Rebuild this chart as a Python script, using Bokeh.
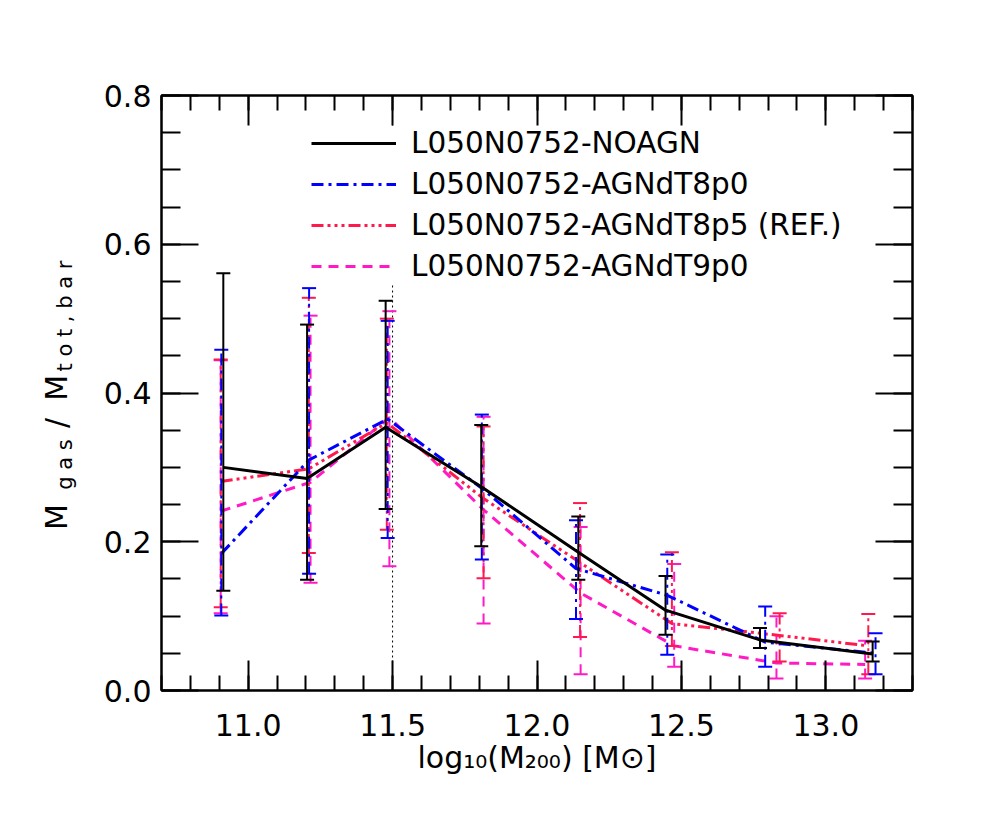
import math
from bokeh.plotting import figure
from bokeh.layouts import row
from bokeh.models import (Range1d, LinearAxis, SingleIntervalTicker, PrintfTickFormatter,
                          Span, Legend, LegendItem)
from bokeh.core.properties import value
from bokeh.embed import file_html
from bokeh.resources import INLINE

# ---------------- data ----------------
series_names = ["L050N0752-NOAGN", "L050N0752-AGNdT8p0",
                "L050N0752-AGNdT8p5 (REF.)", "L050N0752-AGNdT9p0"]

noagn_x = [10.914, 11.204, 11.476, 11.807, 12.143, 12.445, 12.772, 13.162]
noagn_y = [0.300, 0.285, 0.354, 0.274, 0.186, 0.108, 0.068, 0.049]
noagn_hi = [0.561, 0.492, 0.524, 0.357, 0.234, 0.154, 0.084, 0.066]
noagn_lo = [0.134, 0.149, 0.244, 0.194, 0.149, 0.075, 0.057, 0.039]

t8p0_x = [10.907, 11.211, 11.483, 11.809, 12.135, 12.451, 12.790, 13.172]
t8p0_y = [0.184, 0.310, 0.365, 0.272, 0.164, 0.128, 0.065, 0.050]
t8p0_hi = [0.458, 0.541, 0.497, 0.371, 0.229, 0.183, 0.113, 0.077]
t8p0_lo = [0.101, 0.157, 0.205, 0.176, 0.096, 0.048, 0.032, 0.022]

t8p5_x = [10.905, 11.210, 11.480, 11.815, 12.149, 12.467, 12.840, 13.147]
t8p5_y = [0.281, 0.298, 0.360, 0.258, 0.172, 0.090, 0.074, 0.060]
t8p5_hi = [0.445, 0.528, 0.500, 0.355, 0.252, 0.186, 0.104, 0.103]
t8p5_lo = [0.112, 0.185, 0.216, 0.151, 0.072, 0.060, 0.039, 0.022]

t9p0_x = [10.905, 11.216, 11.489, 11.815, 12.151, 12.475, 12.829, 13.136]
t9p0_y = [0.241, 0.280, 0.367, 0.243, 0.131, 0.060, 0.037, 0.035]
t9p0_hi = [0.444, 0.504, 0.510, 0.368, 0.220, 0.170, 0.100, 0.067]
t9p0_lo = [0.104, 0.145, 0.167, 0.090, 0.022, 0.032, 0.016, 0.016]

x_limits = (10.7, 13.3)
y_limits = (0.0, 0.8)
vline_x = 11.5

x_title = "log\u2081\u2080(M\u2082\u2080\u2080) [M\u2299]"
# y title, split into normal / subscript pieces
ytitle_parts = ["M", "g a s", "/", "M", "t o t , b a r"]
ytitle_is_sub = [False, True, False, False, True]

# ---------------- layout / styles ----------------
FONT = "DejaVu Sans"
colors = ["black", "#0000ff", "#ff1a4d", "#ff1ac6"]
dashes = ["solid", "12 5 3 5", "12 4 3 4 3 4 3 4", "10 7"]
line_widths = [3, 3, 3, 3]

TOTAL_W, TOTAL_H = 976, 802
YT_W = 95            # width of the strip holding the y title
FRAME_L, FRAME_T, FRAME_W, FRAME_H = 161, 95, 751, 595
BORDER_L = FRAME_L - YT_W
BORDER_R = TOTAL_W - FRAME_L - FRAME_W

p = figure(frame_width=FRAME_W, frame_height=FRAME_H,
           min_border_left=BORDER_L, min_border_right=BORDER_R,
           min_border_top=FRAME_T, min_border_bottom=60,
           x_range=Range1d(*x_limits), y_range=Range1d(*y_limits),
           output_backend="svg", toolbar_location=None,
           background_fill_color="white", border_fill_color="white")
p.grid.visible = False
p.outline_line_color = "black"
p.outline_line_width = 2

p.add_layout(LinearAxis(), "right")
p.add_layout(LinearAxis(), "above")


def style_axis(ax, interval, nminor, major_in, minor_in, show_labels):
    ax.ticker = SingleIntervalTicker(interval=interval, num_minor_ticks=nminor)
    ax.formatter = PrintfTickFormatter(format="%.1f")
    ax.axis_line_color = "black"
    ax.axis_line_width = 2
    ax.major_tick_line_color = "black"
    ax.minor_tick_line_color = "black"
    ax.major_tick_line_width = 2
    ax.minor_tick_line_width = 2
    ax.major_tick_in = major_in
    ax.major_tick_out = 0
    ax.minor_tick_in = minor_in
    ax.minor_tick_out = 0
    ax.major_label_text_font = FONT
    ax.major_label_text_font_size = "30px"
    if show_labels:
        ax.major_label_text_color = "black"
    else:
        ax.major_label_text_color = None
        ax.major_label_standoff = 0


style_axis(p.below[0], 0.5, 5, 30, 15, True)
style_axis(p.above[0], 0.5, 5, 30, 15, False)
style_axis(p.left[0], 0.2, 4, 37, 19, True)
style_axis(p.right[0], 0.2, 4, 37, 19, False)
p.below[0].major_label_standoff = 23
p.left[0].major_label_standoff = 10

xax = p.below[0]
xax.axis_label = x_title
xax.axis_label_text_font = FONT
xax.axis_label_text_font_size = "30px"
xax.axis_label_text_font_style = "normal"
xax.axis_label_text_color = "black"
xax.axis_label_standoff = 1

span = Span(location=vline_x, dimension="height", line_color="black",
            line_width=1, line_dash="2 3", level="underlay")
p.add_layout(span)

all_series = [
    (noagn_x, noagn_y, noagn_lo, noagn_hi),
    (t8p0_x, t8p0_y, t8p0_lo, t8p0_hi),
    (t8p5_x, t8p5_y, t8p5_lo, t8p5_hi),
    (t9p0_x, t9p0_y, t9p0_lo, t9p0_hi),
]

line_renderers = [None] * 4
for i in [3, 2, 1, 0]:
    xs, ys, lo, hi = all_series[i]
    p.segment(x0=xs, y0=lo, x1=xs, y1=hi, line_color=colors[i],
              line_width=2, line_dash=dashes[i])
    p.scatter(x=xs, y=lo, marker="dash", size=14, line_color=colors[i], line_width=2)
    p.scatter(x=xs, y=hi, marker="dash", size=14, line_color=colors[i], line_width=2)
    line_renderers[i] = p.line(xs, ys, line_color=colors[i],
                               line_width=line_widths[i], line_dash=dashes[i])

legend = Legend(items=[LegendItem(label=series_names[i], renderers=[line_renderers[i]])
                       for i in range(4)],
                location=(150, 407), orientation="vertical",
                label_text_font=FONT, label_text_font_size="29.5px",
                label_text_color="black",
                glyph_width=85, glyph_height=30, label_height=30,
                label_standoff=15, spacing=7, padding=0, margin=0,
                border_line_color=None, background_fill_color="white",
                background_fill_alpha=1.0)
p.add_layout(legend)

# ---- y title strip (page x 0..YT_W, full height; data units = page pixels) ----
yt = figure(width=YT_W, height=TOTAL_H,
            x_range=Range1d(0, YT_W), y_range=Range1d(TOTAL_H, 0),
            x_axis_type=None, y_axis_type=None, min_border=0,
            outline_line_color=None, toolbar_location=None,
            output_backend="svg", background_fill_color="white",
            border_fill_color="white")

# Bokeh's text anchor sits slightly above the drawn baseline; compensate
SHIFT_MAIN, SHIFT_SUB = 14, 10
y_start = [562, 510, 430, 395, 357]
y_base = [70, 74, 70, 70, 74]
for txt, sub, sx, sy in zip(ytitle_parts, ytitle_is_sub, y_base, y_start):
    yt.text(x=[sx - (SHIFT_SUB if sub else SHIFT_MAIN)], y=[sy], text=[txt],
            angle=math.pi / 2,
            text_font=value(FONT), text_font_size=value("21px" if sub else "30px"),
            text_color="black", text_align="left", text_baseline="alphabetic")

layout = row(yt, p)
open("out.html", "w").write(file_html(layout, INLINE))
